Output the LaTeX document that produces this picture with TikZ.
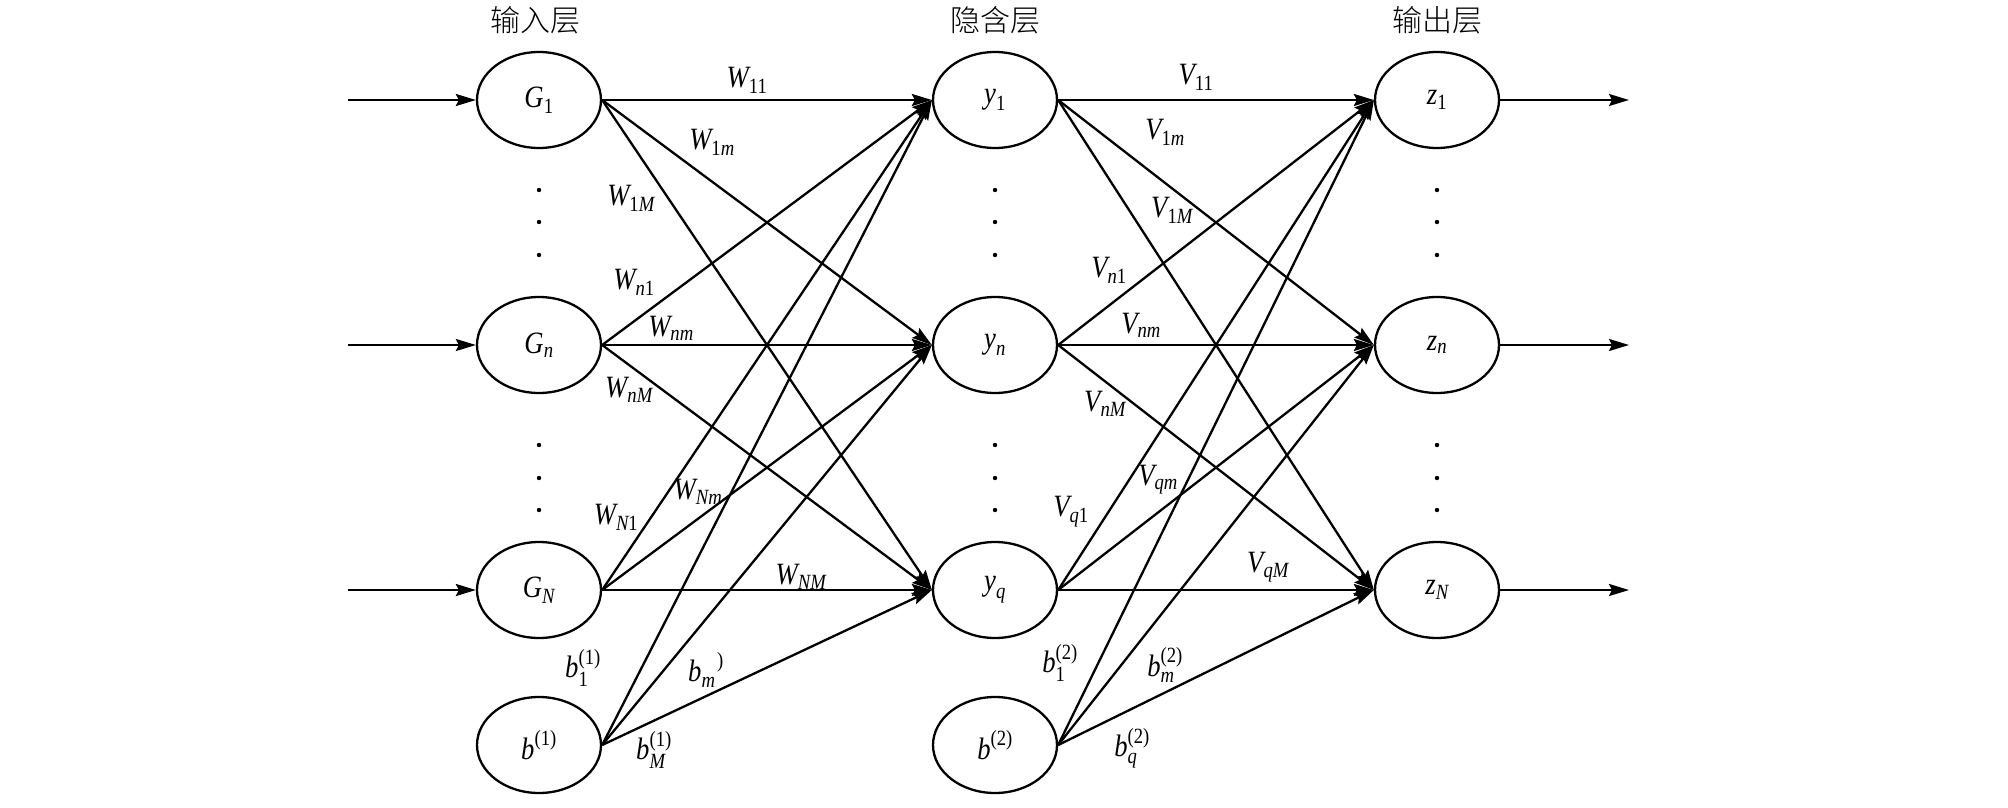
\documentclass[tikz,border=0pt]{standalone}
\usepackage{amsmath}
\usepackage{graphicx}
\usepackage{fontspec}
\setmainfont{Liberation Serif}
\newfontfamily\cjk{Noto Sans CJK SC Light}
\usetikzlibrary{arrows.meta,shapes.geometric}
\newcommand\nar[1]{\scalebox{0.86}[1]{#1}}
\newcommand\iv[1]{\text{\itshape #1}}
\newcommand\wv[2]{\nar{$\iv{#1}_{\text{#2}}$}}
\newcommand\bv[3]{\nar{$\iv{#1}^{\text{#2}}_{\text{#3}}$}}
\tikzset{
  neuron/.style={draw, ellipse, minimum width=124pt, minimum height=96pt, inner sep=0pt, line width=2.3pt, font=\fontsize{31}{36}\selectfont},
  wlab/.style={inner sep=0pt, font=\fontsize{31}{36}\selectfont},
  head/.style={inner sep=0pt, font=\cjk\fontsize{30}{34}\selectfont},
  conn/.style={line width=2.3pt, -{Stealth[length=20pt,width=12pt,inset=3pt]}},
}
\begin{document}
\begin{tikzpicture}[x=1pt,y=-1pt]
\useasboundingbox (0,0) rectangle (2008,808);
% headers
\node[head] (h1) at (535,20) {输入层};
\node[head] (h2) at (995,20) {隐含层};
\node[head] (h3) at (1437,20) {输出层};
% input layer
\node[neuron] (G1) at (539,100) {\wv{G}{1}};
\node[neuron] (Gn) at (539,345) {\wv{G}{\itshape n}};
\node[neuron] (GN) at (539,590) {\wv{G}{\itshape N}};
\node[neuron] (b1) at (539,745) {\nar{$\iv{b}^{\text{(1)}}$}};
% hidden layer
\node[neuron] (y1) at (995,100) {\wv{y}{1}};
\node[neuron] (yn) at (995,345) {\wv{y}{\itshape n}};
\node[neuron] (yq) at (995,590) {\wv{y}{\itshape q}};
\node[neuron] (b2) at (995,745) {\nar{$\iv{b}^{\text{(2)}}$}};
% output layer
\node[neuron] (z1) at (1437,100) {\wv{z}{1}};
\node[neuron] (zn) at (1437,345) {\wv{z}{\itshape n}};
\node[neuron] (zN) at (1437,590) {\wv{z}{\itshape N}};
% dots
\foreach \x in {539,995,1437}{
  \foreach \y in {190,222,255,445,478,510}{
    \fill (\x,\y) circle (2.2pt);
  }
}
% input / output arrows
\foreach \r/\n in {100/G1,345/Gn,590/GN}{
  \coordinate (in\n) at (348,\r);
  \draw[conn] (in\n) -- (\n.west);
}
\foreach \r/\n in {100/z1,345/zn,590/zN}{
  \coordinate (out\n) at (1629,\r);
  \draw[conn] (\n.east) -- (out\n);
}
% connections
\foreach \s in {G1,Gn,GN,b1}{
  \foreach \t in {y1,yn,yq}{
    \draw[conn] (\s.east) -- (\t.west);
  }
}
\foreach \s in {y1,yn,yq,b2}{
  \foreach \t in {z1,zn,zN}{
    \draw[conn] (\s.east) -- (\t.west);
  }
}
% weight labels, first layer
\node[wlab] (w11) at (747,80) {\wv{W}{11}};
\node[wlab] (w1m) at (712,142) {\wv{W}{1\itshape m}};
\node[wlab] (w1M) at (631,198) {\wv{W}{1\itshape M}};
\node[wlab] (wn1) at (634,282) {\wv{W}{\itshape n\upshape 1}};
\node[wlab] (wnm) at (671,328) {\wv{W}{\itshape nm}};
\node[wlab] (wnM) at (629,390) {\wv{W}{\itshape nM}};
\node[wlab] (wNm) at (698,492) {\wv{W}{\itshape Nm}};
\node[wlab] (wN1) at (616,517) {\wv{W}{\itshape N\upshape 1}};
\node[wlab] (wNM) at (801,577) {\wv{W}{\itshape NM}};
\node[wlab] (bb11) at (583,668) {\bv{b}{(1)}{1}};
\node[wlab] (bb1m) at (706,670) {\bv{b}{\phantom{(1})}{\itshape m}};
\node[wlab] (bb1M) at (654,750) {\bv{b}{(1)}{\itshape M}};
% weight labels, second layer
\node[wlab] (v11) at (1196,77) {\wv{V}{11}};
\node[wlab] (v1m) at (1165,132) {\wv{V}{1\itshape m}};
\node[wlab] (v1M) at (1172,210) {\wv{V}{1\itshape M}};
\node[wlab] (vn1) at (1109,270) {\wv{V}{\itshape n\upshape 1}};
\node[wlab] (vnm) at (1141,325) {\wv{V}{\itshape nm}};
\node[wlab] (vnM) at (1105,404) {\wv{V}{\itshape nM}};
\node[wlab] (vqm) at (1158,480) {\wv{V}{\itshape qm}};
\node[wlab] (vq1) at (1071,512) {\wv{V}{\itshape q\upshape 1}};
\node[wlab] (vqM) at (1268,567) {\wv{V}{\itshape qM}};
\node[wlab] (bb21) at (1060,663) {\bv{b}{(2)}{1}};
\node[wlab] (bb2m) at (1165,665) {\bv{b}{(2)}{\itshape m}};
\node[wlab] (bb2q) at (1132,748) {\bv{b}{(2)}{\itshape q}};
\end{tikzpicture}
\end{document}
